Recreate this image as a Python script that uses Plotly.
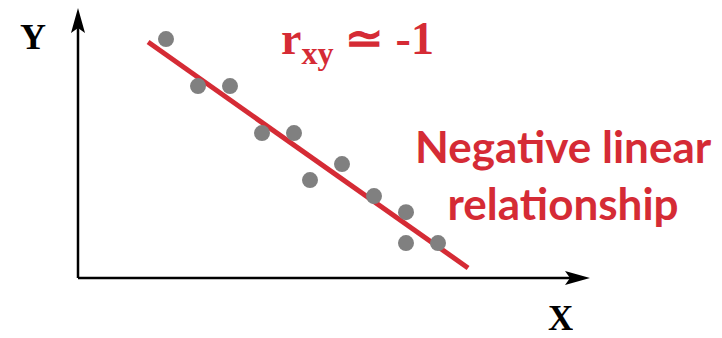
import plotly.graph_objects as go

# Scatter data (arbitrary units, origin at axes corner)
x_vals = [2.75, 3.75, 4.75, 5.75, 6.75, 7.25, 8.25, 9.25, 10.25, 10.25, 11.25]
y_vals = [15.25, 12.25, 12.25, 9.25, 9.25, 6.25, 7.27, 5.23, 4.2, 2.23, 2.23]

# Fitted line endpoints
fit_x = [2.19, 12.19]
fit_y = [15.06, 0.64]

# Axis arrow extents
x_axis_end = 16.0
y_axis_end = 17.23

RED = "#D52B35"
GRAY = "#808080"

# pixel scale of data units (x: 32 px/unit, y: 47/3 px/unit)
PX_X = 32.0
PX_Y = 47.0 / 3.0
HEAD_LEN = 25.0   # px
HEAD_HALF = 7.0   # px
NOTCH = 5.0       # px

fig = go.Figure()
fig.add_trace(go.Scatter(x=fit_x, y=fit_y, mode="lines",
                         line=dict(color=RED, width=5), hoverinfo="skip"))
fig.add_trace(go.Scatter(x=x_vals, y=y_vals, mode="markers",
                         marker=dict(color=GRAY, size=16, line=dict(width=0))))

# Axis lines and arrowheads
hx, hh_x, nx = HEAD_LEN / PX_X, HEAD_HALF / PX_Y, NOTCH / PX_X
hy, hh_y, ny = HEAD_LEN / PX_Y, HEAD_HALF / PX_X, NOTCH / PX_Y
shapes = [
    dict(type="line", x0=0, y0=0, x1=x_axis_end - hx + nx, y1=0,
         line=dict(color="black", width=2.5)),
    dict(type="line", x0=0, y0=0, x1=0, y1=y_axis_end - hy + ny,
         line=dict(color="black", width=2.5)),
    dict(type="path",
         path=f"M{x_axis_end},0 L{x_axis_end - hx},{hh_x} L{x_axis_end - hx + nx},0 "
              f"L{x_axis_end - hx},{-hh_x} Z",
         fillcolor="black", line=dict(width=0)),
    dict(type="path",
         path=f"M0,{y_axis_end} L{hh_y},{y_axis_end - hy} L0,{y_axis_end - hy + ny} "
              f"L{-hh_y},{y_axis_end - hy} Z",
         fillcolor="black", line=dict(width=0)),
]

annotations = [
    dict(x=33/722, y=1-37/338, xref="paper", yref="paper", showarrow=False,
         xanchor="center", yanchor="middle", height=32,
         text="<b>Y</b>", font=dict(family="Liberation Serif", size=36, color="black")),
    dict(x=560/722, y=1-318/338, xref="paper", yref="paper", showarrow=False,
         xanchor="center", yanchor="middle", height=30,
         text="<b>X</b>", font=dict(family="Liberation Serif", size=35, color="black")),
    dict(x=357/722, y=1-42/338, xref="paper", yref="paper", showarrow=False,
         xanchor="center", yanchor="middle",
         text="<b>r<sub>xy</sub> ≃ -1</b>", font=dict(family="Liberation Serif", size=46, color=RED)),
    dict(x=563/722, y=1-174/338, xref="paper", yref="paper", showarrow=False,
         xanchor="center", yanchor="middle",
         text="<b>Negative linear<br>relationship</b>", align="center",
         font=dict(family="Lato", size=44, color=RED)),
]

fig.update_layout(
    width=722, height=338,
    margin=dict(l=0, r=0, t=0, b=0),
    paper_bgcolor="white", plot_bgcolor="white",
    showlegend=False,
    xaxis=dict(range=[-78/PX_X, 644/PX_X], visible=False, fixedrange=True),
    yaxis=dict(range=[-60/PX_Y, 278/PX_Y], visible=False, fixedrange=True),
    shapes=shapes,
    annotations=annotations,
)

fig.write_html("out.html", config={"displayModeBar": False},
               post_script="document.body.style.margin='0';document.body.style.overflow='hidden';")
